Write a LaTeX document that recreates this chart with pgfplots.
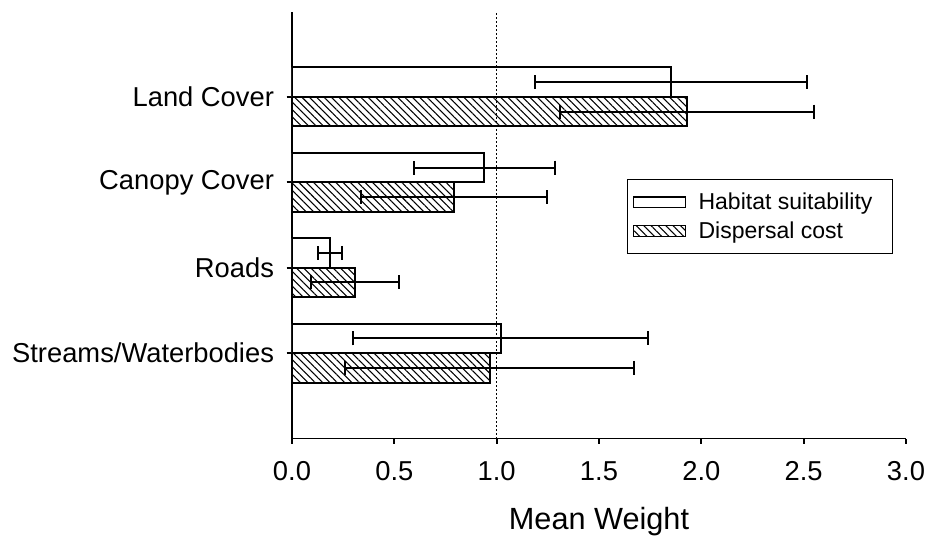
\documentclass[border=0pt]{standalone}
\usepackage{fontspec}
\setmainfont{Liberation Sans}
\usepackage{pgfplots}
\pgfplotsset{compat=1.18}
\usetikzlibrary{patterns.meta}
\begin{document}
\begin{tikzpicture}
\begin{axis}[
  at={(0,0)}, anchor=south west,
  scale only axis, width=460.5pt, height=320.25pt,
  xmin=0, xmax=3, ymin=0, ymax=5,
  axis x line*=bottom, axis y line*=left,
  axis line style={line width=1.4pt, black},
  tick style={line width=1.3pt, black},
  tick align=outside, major tick length=4pt,
  xtick={0,0.5,1,1.5,2,2.5,3},
  ytick={1,2,3,4},
  yticklabels={Streams/Waterbodies, Roads, Canopy Cover, Land Cover},
  ticklabel style={font=\fontsize{20.5}{24}\selectfont},
  xticklabel style={yshift=-10pt, /pgf/number format/.cd, fixed, fixed zerofill, precision=1, assume math mode=true},
  yticklabel style={xshift=-6pt},
  xlabel={Mean Weight},
  xlabel style={font=\fontsize{23}{27}\selectfont, at={(axis description cs:0.5,0)}, anchor=center, yshift=-62pt},
  legend style={at={(0.5456,0.6077)}, anchor=north west, draw=black, line width=0.9pt,
    font=\fontsize{17.25}{20}\selectfont, inner xsep=4pt, inner ysep=8pt, row sep=3.5pt},
  legend cell align=left,
  legend image code/.code={\draw[#1, line width=1pt] (0pt,-4.1pt) rectangle (39pt,4.1pt); \path (46pt,0pt);},
]
\addplot[xbar, bar width=0.345, bar shift=0pt, draw=black, line width=1.5pt, fill=white,
  error bars/.cd, x dir=both, x explicit,
  error bar style={line width=1.5pt, black},
  error mark options={black, line width=1.5pt, mark size=5.25pt, rotate=90}]
  coordinates {
  (1.85,4.1725) +- (0.665,0)
  (0.94,3.1725) +- (0.345,0)
  (0.185,2.1725) +- (0.06,0)
  (1.02,1.1725) +- (0.72,0)
  };
\addlegendentry{Habitat suitability\kern9pt}
\addplot[xbar, bar width=0.345, bar shift=0pt, draw=black, line width=1.5pt,
  pattern={Lines[angle=-45, distance=3.9pt, line width=0.8pt]},
  error bars/.cd, x dir=both, x explicit,
  error bar style={line width=1.5pt, black},
  error mark options={black, line width=1.5pt, mark size=5.25pt, rotate=90}]
  coordinates {
  (1.93,3.8275) +- (0.62,0)
  (0.79,2.8275) +- (0.455,0)
  (0.307,1.8275) +- (0.216,0)
  (0.966,0.8275) +- (0.705,0)
  };
\addlegendentry{Dispersal cost}
\addplot[black, dotted, line width=1pt, forget plot] coordinates {(1,0) (1,5)};
\end{axis}
\pgfresetboundingbox
\useasboundingbox (-219pt,-74.6pt) rectangle (475.5pt,328.9pt);
\end{tikzpicture}
\end{document}
